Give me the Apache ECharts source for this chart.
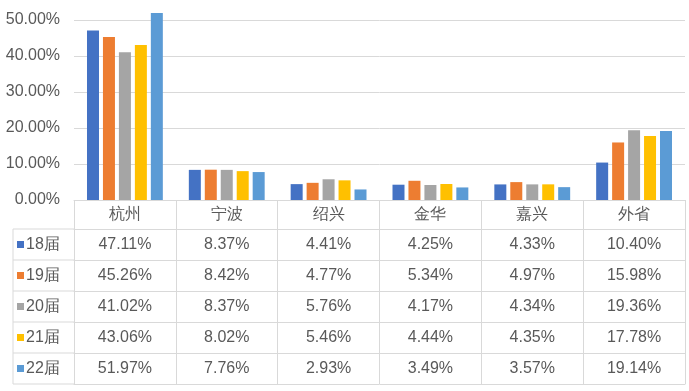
<!DOCTYPE html>
<html><head><meta charset="utf-8">
<script src="https://cdn.jsdelivr.net/npm/echarts@6/dist/echarts.min.js"></script>
<style>html,body{margin:0;padding:0;background:#fff}#c{width:689px;height:391px}</style>
</head><body><div id="c"></div>
<script>
const categories = ['杭州', '宁波', '绍兴', '金华', '嘉兴', '外省'];
const seriesNames = ['18届', '19届', '20届', '21届', '22届'];
const v18 = [47.11, 8.37, 4.41, 4.25, 4.33, 10.40];
const v19 = [45.26, 8.42, 4.77, 5.34, 4.97, 15.98];
const v20 = [41.02, 8.37, 5.76, 4.17, 4.34, 19.36];
const v21 = [43.06, 8.02, 5.46, 4.44, 4.35, 17.78];
const v22 = [51.97, 7.76, 2.93, 3.49, 3.57, 19.14];
const yTicks = [0, 10, 20, 30, 40, 50, 60];

const values = [v18, v19, v20, v21, v22];
const colors = ['#4472C4', '#ED7D31', '#A5A5A5', '#FFC000', '#5B9BD5'];
const txt = '#595959';
const lineC = '#D9D9D9';
const font = '"Liberation Sans", Arial, sans-serif';
const rowH = 31, headH = 29;

const chart = echarts.init(document.getElementById('c'), null, {renderer: 'canvas'});

const xAxes = [{
  type: 'category', data: categories, gridIndex: 0, position: 'bottom',
  axisLine: {show: true, lineStyle: {color: lineC, width: 1}},
  axisTick: {show: true, interval: 0, length: headH, lineStyle: {color: lineC}},
  axisLabel: {interval: 0, color: txt, fontSize: 16, fontFamily: font, margin: 0, lineHeight: headH}
}];
values.forEach((arr, i) => {
  xAxes.push({
    type: 'category', data: categories, gridIndex: 0, position: 'bottom',
    offset: headH + rowH * i,
    axisLine: {show: true, lineStyle: {color: lineC, width: 1}},
    axisTick: {show: true, interval: 0, length: rowH, lineStyle: {color: lineC}},
    axisLabel: {interval: 0, color: txt, fontSize: 16, fontFamily: font, margin: 0, lineHeight: rowH,
      formatter: (v, idx) => arr[idx].toFixed(2) + '%'}
  });
});
xAxes.push({
  type: 'category', data: categories, gridIndex: 0, position: 'bottom',
  offset: headH + rowH * values.length,
  axisLine: {show: true, lineStyle: {color: lineC, width: 1}},
  axisTick: {show: false}, axisLabel: {show: false}
});

const series = values.map((arr, i) => ({
  name: seriesNames[i], type: 'bar', xAxisIndex: 0, yAxisIndex: 0,
  data: arr, barWidth: 12, barGap: '33%',
  itemStyle: {color: colors[i]}
}));

// left column borders
const gx0 = 13, gx1 = 74, topY = 200 + headH;
const graphics = [];
for (let i = 0; i <= values.length; i++) {
  graphics.push({type: 'line', shape: {x1: gx0, y1: topY + rowH * i, x2: gx1, y2: topY + rowH * i},
    style: {stroke: lineC, lineWidth: 1}, silent: true});
}
graphics.push({type: 'line', shape: {x1: gx0, y1: topY, x2: gx0, y2: topY + rowH * values.length},
  style: {stroke: lineC, lineWidth: 1}, silent: true});

chart.setOption({
  animation: false,
  backgroundColor: '#fff',
  grid: {left: 74, right: 4, top: -16, bottom: 191, outerBoundsMode: 'none', containLabel: false},
  legend: {
    orient: 'vertical', left: 17, top: topY, itemGap: 0, itemWidth: 7, itemHeight: 7,
    icon: 'rect', padding: 0,
    data: seriesNames,
    textStyle: {color: txt, fontSize: 16, fontFamily: font, lineHeight: rowH, padding: [0, 0, 0, -3]}
  },
  xAxis: xAxes,
  yAxis: {
    type: 'value', min: yTicks[0], max: yTicks[yTicks.length - 1], interval: 10,
    axisLine: {show: false}, axisTick: {show: false},
    splitLine: {lineStyle: {color: lineC}},
    axisLabel: {color: txt, fontSize: 16, fontFamily: font, margin: 14,
      formatter: v => v.toFixed(2) + '%'}
  },
  graphic: graphics,
  series: series
});
</script></body></html>
